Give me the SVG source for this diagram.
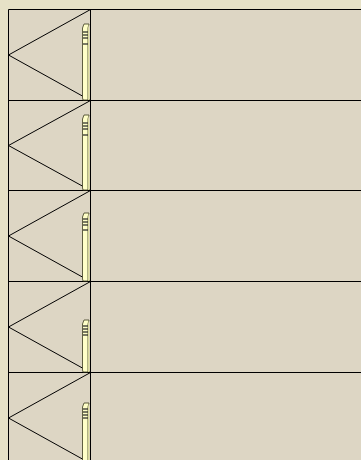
<svg xmlns="http://www.w3.org/2000/svg" width="361" height="460" viewBox="0 0 361 460">
<defs>
<style>
.ln{stroke:#000;stroke-width:1;fill:none}
.bar{fill:#ffffc8;stroke:#3a3a20;stroke-width:0.8}
.side{fill:#d8d89a;stroke:none}
.tick{stroke:#222;stroke-width:1.2}
</style>
<g id="barShape">
<polygon class="bar" points="82.5,4 84,0 89,0 88,4 88,76 83,76 82.5,74"/>
<polygon class="side" points="88,4 89,0 89.5,76 88,76"/>
<line class="tick" x1="83" y1="8" x2="88" y2="8"/>
<line class="tick" x1="83" y1="11" x2="88" y2="11"/>
<line class="tick" x1="83" y1="14" x2="88" y2="14"/>
<line class="tick" x1="83" y1="20" x2="88" y2="20"/>
</g>
</defs>
<rect width="361" height="460" fill="#e6e1c6"/>
<rect x="8" y="9.5" width="360" height="460" fill="#ddd6c4"/>
<g id="grid">
<line class="ln" x1="8.5" y1="9.5" x2="361" y2="9.5"/>
<line class="ln" x1="8.5" y1="9.5" x2="8.5" y2="460"/>
<line class="ln" x1="90.5" y1="9.5" x2="90.5" y2="460"/>
<line class="ln" x1="8.5" y1="100.5" x2="361" y2="100.5"/>
<line class="ln" x1="8.5" y1="190.5" x2="361" y2="190.5"/>
<line class="ln" x1="8.5" y1="281.5" x2="361" y2="281.5"/>
<line class="ln" x1="8.5" y1="372.5" x2="361" y2="372.5"/>
</g>
<g id="row1">
<polyline class="ln" points="90.5,9.5 8.5,55 90.5,100.5"/>
<g transform="translate(0,24)"><polygon class="bar" points="82.5,4 84,0 89,0 88,4 88,76 83,76 82.5,74"/><polygon class="side" points="88,4 89,0 89.5,76 88,76"/><line class="tick" x1="83" y1="8" x2="88" y2="8"/><line class="tick" x1="83" y1="11" x2="88" y2="11"/><line class="tick" x1="83" y1="14" x2="88" y2="14"/><line class="tick" x1="83" y1="20" x2="88" y2="20"/></g>
</g>
<g id="row2">
<polyline class="ln" points="90.5,100.5 8.5,145.5 90.5,190.5"/>
<g transform="translate(0,115)"><polygon class="bar" points="82.5,4 84,0 89,0 88,4 88,75 83,75 82.5,73"/><polygon class="side" points="88,4 89,0 89.5,75 88,75"/><line class="tick" x1="83" y1="8" x2="88" y2="8"/><line class="tick" x1="83" y1="11" x2="88" y2="11"/><line class="tick" x1="83" y1="14" x2="88" y2="14"/><line class="tick" x1="83" y1="20" x2="88" y2="20"/></g>
</g>
<g id="row3">
<polyline class="ln" points="90.5,190.5 8.5,236 90.5,281.5"/>
<g transform="translate(0,213)"><polygon class="bar" points="82.5,4 84,0 89,0 88,4 88,68 83,68 82.5,66"/><polygon class="side" points="88,4 89,0 89.5,68 88,68"/><line class="tick" x1="83" y1="6" x2="88" y2="6"/><line class="tick" x1="83" y1="9" x2="88" y2="9"/><line class="tick" x1="83" y1="12" x2="88" y2="12"/><line class="tick" x1="83" y1="17" x2="88" y2="17"/></g>
</g>
<g id="row4">
<polyline class="ln" points="90.5,281.5 8.5,327 90.5,372.5"/>
<g transform="translate(0,320)"><polygon class="bar" points="82.5,4 84,0 89,0 88,4 88,52 83,52 82.5,50"/><polygon class="side" points="88,4 89,0 89.5,52 88,52"/><line class="tick" x1="83" y1="6" x2="88" y2="6"/><line class="tick" x1="83" y1="9" x2="88" y2="9"/><line class="tick" x1="83" y1="12" x2="88" y2="12"/><line class="tick" x1="83" y1="15" x2="88" y2="15"/></g>
</g>
<g id="row5">
<polyline class="ln" points="90.5,372.5 8.5,418 90.5,463.5"/>
<g transform="translate(0,403)"><polygon class="bar" points="82.5,4 84,0 89,0 88,4 88,60 83,60 82.5,58"/><polygon class="side" points="88,4 89,0 89.5,60 88,60"/><line class="tick" x1="83" y1="6" x2="88" y2="6"/><line class="tick" x1="83" y1="9" x2="88" y2="9"/><line class="tick" x1="83" y1="12" x2="88" y2="12"/><line class="tick" x1="83" y1="15" x2="88" y2="15"/></g>
</g>
</svg>
